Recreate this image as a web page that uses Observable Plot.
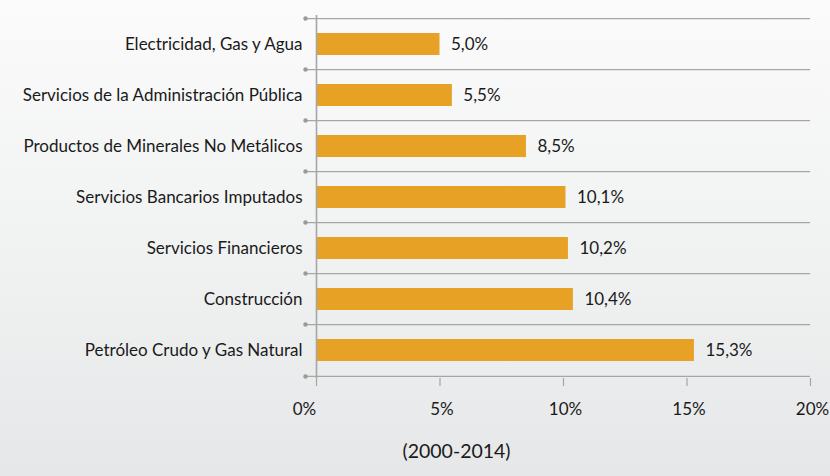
<!DOCTYPE html>
<html><head><meta charset="utf-8">
<script src="https://cdn.jsdelivr.net/npm/d3@7"></script>
<script src="https://cdn.jsdelivr.net/npm/@observablehq/plot@0.6"></script>
<style>
html,body{margin:0;padding:0;}
#chart{width:830px;height:476px;background:linear-gradient(to bottom,#fbfbfb 0%,#f1f2f2 50%,#e6e7e8 100%);}
svg{display:block;}
</style></head>
<body><div id="chart"></div>
<script>
const categories = ["Electricidad, Gas y Agua","Servicios de la Administración Pública","Productos de Minerales No Metálicos","Servicios Bancarios Imputados","Servicios Financieros","Construcción","Petróleo Crudo y Gas Natural"];
const values = [5.0, 5.5, 8.5, 10.1, 10.2, 10.4, 15.3];
const valueLabels = ["5,0%","5,5%","8,5%","10,1%","10,2%","10,4%","15,3%"];
const xTicks = [0,5,10,15,20];
const caption = "(2000-2014)";

const data = categories.map((c,i)=>({cat:c, v:values[i], lab:valueLabels[i]}));
const W=830,H=476,mt=15,mb=98,ml=316,mr=20;
const step=(H-mt-mb)/categories.length;
const grid="#a6a6a6";
const font="Lato, 'Open Sans', sans-serif";
const fs=17;

const chart = Plot.plot({
  width:W,height:H,marginTop:mt,marginBottom:mb,marginLeft:ml,marginRight:mr,
  style:{fontFamily:font,fontSize:fs+"px",color:"#1a1a1a",background:"transparent",overflow:"visible"},
  x:{domain:[0,20]},
  y:{domain:categories,paddingInner:0.57,paddingOuter:0.285,align:0.5},
  marks:[
    Plot.ruleY(categories,{y:d=>d,dy:-step/2,stroke:grid,strokeWidth:1.2,insetLeft:-11}),
    Plot.ruleY([categories[categories.length-1]],{y:d=>d,dy:step/2,stroke:grid,strokeWidth:1.2,insetLeft:-11}),
    Plot.dot(categories,{y:d=>d,frameAnchor:"left",dx:-11,dy:-step/2,r:2.2,fill:"#9a9a9a",stroke:null}),
    Plot.dot([categories[categories.length-1]],{y:d=>d,frameAnchor:"left",dx:-11,dy:step/2,r:2.2,fill:"#9a9a9a",stroke:null}),
    Plot.barX(data,{x:"v",y:"cat",fill:"#e7a225"}),
    Plot.text(data,{x:"v",y:"cat",text:"lab",textAnchor:"start",dx:11,fontSize:fs,fill:"#1a1a1a"}),
    Plot.axisY({tickSize:0,tickPadding:14,fontSize:fs,fill:"#1a1a1a",label:null}),
    Plot.axisX(xTicks,{tickSize:8,tickPadding:16,stroke:grid,strokeWidth:1.2,text:null,label:null}),
    Plot.axisX(xTicks.slice(0,1),{tickSize:0,tickPadding:24,dx:-12,tickFormat:d=>d+"%",fontSize:fs,fill:"#1a1a1a",label:null}),
    Plot.axisX(xTicks.slice(1),{tickSize:0,tickPadding:24,dx:2,tickFormat:d=>d+"%",fontSize:fs,fill:"#1a1a1a",label:null}),
    Plot.ruleX([0],{stroke:grid,strokeWidth:1.6}),
    Plot.text([caption],{frameAnchor:"bottom-left",dx:456-ml,dy:79,text:d=>d,fontSize:19.5,textAnchor:"middle",fill:"#1a1a1a"})
  ]
});
document.getElementById("chart").appendChild(chart);
</script></body></html>
